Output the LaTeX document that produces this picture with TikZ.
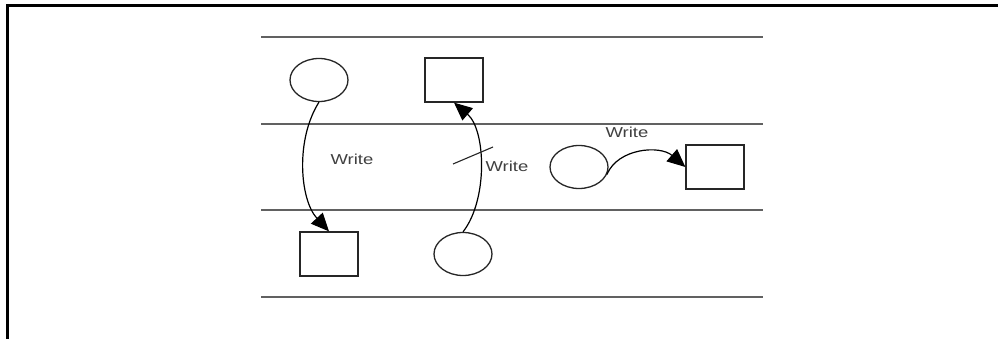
\documentclass[tikz,border=0pt]{standalone}
\usepackage{fontspec}
\setmainfont{Liberation Sans}
\usetikzlibrary{arrows.meta,shapes.geometric}
\begin{document}
\begin{tikzpicture}[x=1pt,y=-1pt,
  lane/.style={draw=black!62,line width=2.2pt},
  place/.style={draw=black!85,line width=1.3pt,ellipse,minimum width=58pt,minimum height=43pt,inner sep=0pt},
  store/.style={draw=black!85,line width=1.3pt,rectangle,minimum width=58pt,minimum height=44pt,inner sep=0pt},
  flow/.style={draw=black,line width=1.2pt,-{Triangle[length=18pt,width=16pt]}},
  lbl/.style={font=\fontsize{14.4}{16}\selectfont,text=black!75,inner sep=0pt}]
\useasboundingbox (0,0) rectangle (998,339);
\fill[white] (0,0) rectangle (998,339);
% outer frame (top and left edges)
\draw[black,line width=3pt] (7,339) -- (7,6) -- (998,6);
% lane separators
\foreach \yy/\nm in {37/l1,124/l2,210/l3,297/l4}
  \draw[lane] (261,\yy) coordinate (\nm a) -- (763,\yy) coordinate (\nm b);
% nodes
\node[place] (c1) at (319,80) {};
\node[store] (s1) at (454,80) {};
\node[store] (s2) at (329,254) {};
\node[place] (c2) at (463,254) {};
\node[place] (c3) at (579,167) {};
\node[store] (s3) at (715,167) {};
% connectors
\draw[flow] (c1.south) .. controls (295,140) and (300,200) .. (s2.north);
\draw[flow] (c2.north) .. controls (488,200) and (486,130) .. (s1.south);
\draw[flow] (c3.-15) .. controls (618,148) and (660,145) .. (s3.west);
% strike mark on the middle connector
\coordinate (k1) at (453,164);
\coordinate (k2) at (493,147);
\draw[black!85,line width=1.1pt] (k1) -- (k2);
% labels
\node[lbl] (w1) at (352,159) {\scalebox{1.28}[1]{Write}};
\node[lbl] (w2) at (507,166) {\scalebox{1.28}[1]{Write}};
\node[lbl] (w3) at (627,132) {\scalebox{1.28}[1]{Write}};
\end{tikzpicture}
\end{document}
